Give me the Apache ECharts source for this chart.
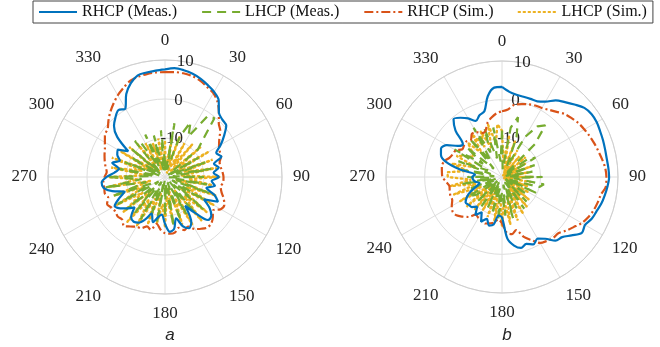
<!DOCTYPE html>
<html>
<head>
<meta charset="utf-8">
<script src="https://cdn.jsdelivr.net/npm/echarts@6/dist/echarts.min.js"></script>
<style>html,body{margin:0;padding:0;background:#fff}#c{width:660px;height:347px}</style>
</head>
<body>
<div id="c"></div>
<script>
const angles = [0,5,10,15,20,25,30,35,40,45,50,55,60,65,70,75,80,85,90,95,100,105,110,115,120,125,130,135,140,145,150,155,160,165,170,175,180,185,190,195,200,205,210,215,220,225,230,235,240,245,250,255,260,265,270,275,280,285,290,295,300,305,310,315,320,325,330,335,340,345,350,355];
const angleTicks = [0,30,60,90,120,150,180,210,240,270,300,330];
const radialTicks = [-10,0,10];
const seriesNames = ['RHCP (Meas.)','LHCP (Meas.)','RHCP (Sim.)','LHCP (Sim.)'];
const panelLabels = ['a','b'];

// Panel a
const aRhcpMeas = [7.6,8.0,7.8,7.4,6.8,6.0,5.2,4.0,1.5,0.8,0.5,-1.5,-3.5,-5.5,-4.6,-7.0,-6.0,-7.5,-6.2,-8.0,-7.0,-9.0,-6.5,-5.0,-8.5,-6.0,-4.5,-4.4,-8.0,-11,-6.5,-5.5,-6.5,-9.0,-6.5,-5.9,-8.0,-10.3,-9.5,-8.0,-10,-8.0,-6.5,-6.0,-6.5,-9.0,-7.5,-6.0,-5.1,-7.0,-9.0,-6.0,-4.0,-3.7,-5.0,-7.0,-8.0,-6.0,-7.7,-6.5,-6.0,-8.5,-4.0,-1.5,-0.2,0.9,0.3,3.5,5.6,7.0,7.2,7.4];
const aLhcpMeas = [-16,-19,-6,-18,-9,-4.5,-8,-1,-0.3,-6,-9,-19,-10,-18.5,-9,-17,-8,-18,-10,-19,-9,-17,-8,-18,-8.5,-16,-7,-18.5,-8,-16,-9,-18.5,-8,-17,-7,-18,-10,-19,-8,-18,-9,-17,-7.5,-18.5,-8,-16,-7,-18,-6,-16,-5.5,-15,-4.5,-14,-5,-17,-8,-18.5,-9,-18,-10,-18.5,-9,-18,-8,-9.5,-17,-8,-16,-9,-18.5,-8];
const aRhcpSim = [6.9,7.0,7.0,6.8,6.3,5.5,4.8,3.5,1.5,-0.5,-1.5,-3.0,-4.0,-4.5,-4.7,-5.5,-5.5,-5.2,-5.0,-5.0,-5.5,-5.0,-4.0,-3.2,-3.5,-5.0,-4.0,-3.2,-3.1,-3.8,-4.6,-6.0,-5.5,-6.5,-5.5,-5.4,-5.6,-6.5,-7.8,-6.0,-6.5,-5.5,-5.3,-4.5,-3.6,-4.5,-4.2,-4.5,-4.2,-3.6,-4.5,-4.0,-4.2,-4.1,-4.5,-5.0,-4.5,-4.0,-3.5,-3.0,-2.2,-1.2,-0.8,0.5,1.8,3.0,4.2,5.2,6.2,6.6,6.8,6.9];
const aLhcpSim = [-11,-18,-10,-17,-9,-19,-10,-16,-9,-18,-8,-16,-7,-17,-7,-15,-6.5,-16,-6,-14,-7,-17,-6,-14,-5.5,-15,-6,-13,-5.5,-16,-6,-14,-7,-17,-8,-15,-7,-13,-8,-16,-7,-14,-5.5,-13,-5,-15,-6,-13,-5.5,-14,-6,-16,-5,-13,-5.5,-15,-6,-14,-5.5,-16,-7,-17,-8,-18,-9,-16,-10,-18,-11,-17,-10,-17];

// Panel b
const bRhcpMeas = [3.3,2.1,1.6,1.5,1.5,1.6,2.5,4.2,5.3,6.5,7.8,8.3,8.3,8.0,7.8,7.6,7.5,7.6,7.7,7.4,7.0,6.6,6.0,5.6,4.8,5.2,3.5,2.0,1.5,-0.5,-1.6,-0.8,-1.6,-1.0,-2.0,-4.0,-9.5,-10,-7.5,-7.0,-8.5,-7.2,-9.5,-8.0,-10,-9.0,-8.8,-8.5,-9.5,-11,-13,-14,-13,-12.5,-12.3,-13,-9,-5,-3.2,-2.6,-3.5,-6,-6.8,-3,-0.5,-1.3,-2.5,-4.0,-3.0,-2.4,1.2,3.2];
const bLhcpMeas = [-8,-18,-7,-4,-9,-17,-8,-4,-2.6,-8,-19,-12,-10,-18.5,-11,-19,-12,-18.5,-9.5,-17,-9,-10,-18,-10,-19,-12,-18.5,-11,-18,-10,-18.5,-11,-17,-9,-18,-10,-16,-8.7,-17,-10,-18,-11,-18.5,-10,-18,-11,-18.5,-12,-10,-18,-11,-18.5,-9.5,-17,-11,-18,-10,-17,-8,-16,-5.8,-14,-8,-17,-7,-15,-5.3,-13,-6.7,-15,-7,-16];
const bRhcpSim = [-3.0,-2.5,-1.0,-0.5,0.0,0.4,0.6,1.2,2.0,3.0,3.6,4.2,4.6,5.0,5.4,5.8,6.3,6.8,7.0,7.0,6.0,5.6,5.2,4.6,3.8,2.6,1.6,0.6,0.6,0.2,-0.3,-2.0,-3.5,-5.8,-5.0,-5.5,-8,-9,-8,-7.6,-7.2,-7.6,-7.8,-8.1,-6.5,-5.5,-4.6,-4.4,-5.0,-5.8,-5.8,-6.0,-6.2,-5.5,-4.6,-4.4,-4.2,-4.5,-5.5,-6.0,-6.2,-7.5,-7.2,-7.0,-7.5,-6.4,-6.6,-7.5,-7.4,-5.5,-4.4,-3.5];
const bLhcpSim = [-8,-16,-9,-18,-10,-19,-12,-19.5,-13,-19,-12,-19.5,-13,-19,-12,-19.5,-13,-19,-12,-19.5,-12.4,-19,-13,-19.5,-12,-19,-11,-18,-10,-17,-9,-16,-8,-15,-7.5,-14,-7.2,-15,-8.5,-16,-9,-17,-10,-16,-9,-17,-8,-15,-7.5,-14,-6.8,-13,-6.5,-12,-6,-5.8,-11,-6.5,-13,-7,-9.2,-11,-10,-7.5,-12,-6.5,-11,-7,-12,-6,-11,-6.3];

const colors = ['#0072BD','#77AC30','#D95319','#EDB120'];
const lineTypes = ['solid',[9,6],[9,3,2,3],[1.5,3.5]];
const smoothing = [0.3,0,0.3,0];

function toPolar(vals){
  const d = vals.map((v,i)=>[v, angles[i]]);
  d.push([vals[0], 360]);
  return d;
}

const panels = [
  {center:[165,177], radius:117, data:[aRhcpMeas,aLhcpMeas,aRhcpSim,aLhcpSim]},
  {center:[502,177], radius:116, data:[bRhcpMeas,bLhcpMeas,bRhcpSim,bLhcpSim]}
];

const polar = [], angleAxis = [], radiusAxis = [], series = [];
const textCol = '#262626';
const serif = 'Liberation Serif';

panels.forEach((p, k)=>{
  polar.push({center:p.center, radius:p.radius});
  angleAxis.push({
    polarIndex: polar.length-1, type:'value', min:0, max:360, interval:30,
    startAngle:90, clockwise:true,
    axisLine:{show:true, lineStyle:{color:'#d0d0d0', width:1}},
    axisTick:{show:false},
    splitLine:{show:true, lineStyle:{color:'#dedede', width:1}},
    axisLabel:{show:true, margin:11, color:textCol, fontFamily:serif, fontSize:17,
      formatter: v => angleTicks.indexOf(v) >= 0 ? String(v) : ''}
  });
  radiusAxis.push({
    polarIndex: polar.length-1, type:'value', min:-20, max:10, interval:10,
    axisLine:{show:false}, axisTick:{show:false}, axisLabel:{show:false},
    splitLine:{show:true, lineStyle:{color:'#dedede', width:1}}
  });
  const mainIdx = polar.length-1;
  p.data.forEach((vals, j)=>{
    series.push({
      type:'line', coordinateSystem:'polar', polarIndex:mainIdx,
      name: seriesNames[j], data: toPolar(vals), symbol:'none', smooth: smoothing[j],
      lineStyle:{color:colors[j], width: j===3?2.4:2.2, type:lineTypes[j], cap: j===3?'round':'butt'},
      itemStyle:{color:colors[j]}, z: 2 + (j===0?3:j===2?2:j===1?1:0)
    });
  });
  polar.push({center:p.center, radius:p.radius});
  angleAxis.push({polarIndex: polar.length-1, type:'value', min:0, max:360, startAngle:80, clockwise:true, show:false});
  radiusAxis.push({
    polarIndex: polar.length-1, type:'value', min:-20, max:10, interval:10, z:1,
    axisLine:{show:false}, axisTick:{show:false}, splitLine:{show:false},
    axisLabel:{show:true, margin:0, align:'center', verticalAlign:'middle', rotate:0,
      color:textCol, fontFamily:serif, fontSize:17,
      formatter: v => radialTicks.indexOf(v) >= 0 ? String(v) : ''}
  });
});

const option = {
  animation:false,
  backgroundColor:'#fff',
  title: panelLabels.map((t,i)=>({
    text:t, left: panels[i].center[0], top: 322, textAlign:'center',
    textStyle:{fontFamily:'Liberation Sans', fontStyle:'italic', fontWeight:'normal', fontSize:17, color:textCol}
  })),
  legend:{
    data: seriesNames, left:33, top:1, width:640, orient:'horizontal',
    itemWidth:38, itemHeight:14, itemGap:24,
    itemStyle:{opacity:0},
    borderColor:'#444', borderWidth:1, padding:[3,6,3,5],
    textStyle:{fontFamily:serif, fontSize:16, color:'#111'}
  },
  polar, angleAxis, radiusAxis, series
};
const chart = echarts.init(document.getElementById('c'), null, {renderer:'canvas'});
chart.setOption(option);
</script>
</body>
</html>
